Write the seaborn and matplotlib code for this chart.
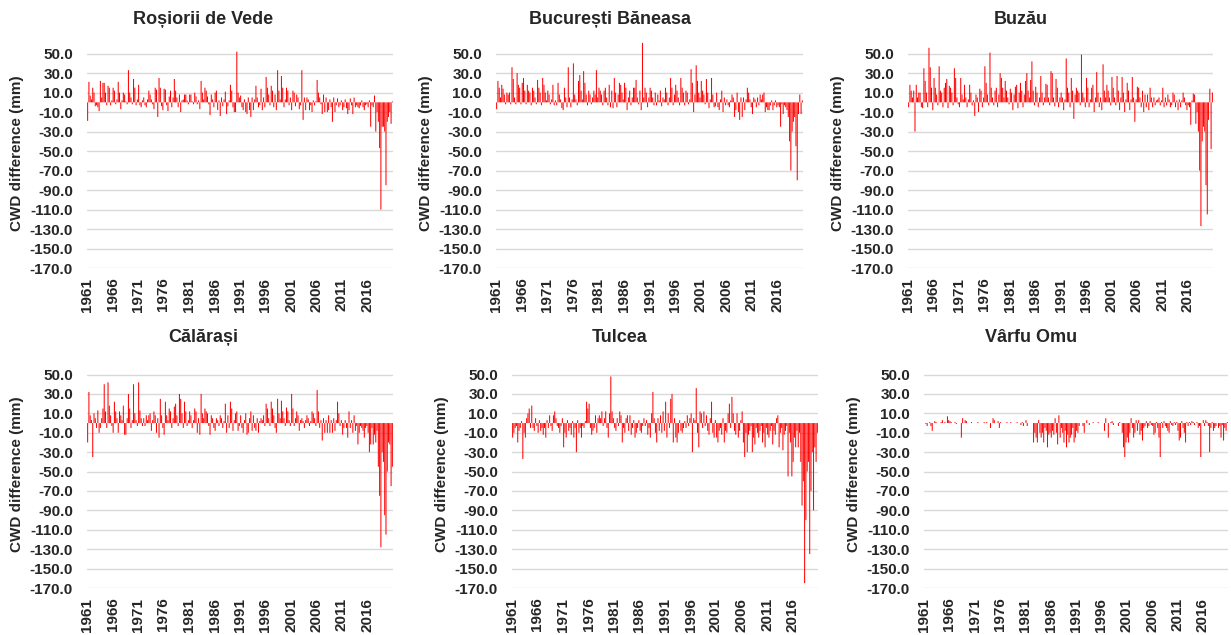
import matplotlib
matplotlib.use('Agg')
import matplotlib.pyplot as plt
import seaborn as sns
import pandas as pd
from matplotlib.ticker import FormatStrFormatter

# Jahre und Achsen
first_year = 1961
last_year = 2020
tick_years = list(range(1961, 2017, 5))
ytick_values = list(range(-170, 51, 20))

stations = ['Roșiorii de Vede', 'București Băneasa', 'Buzău',
            'Călărași', 'Tulcea', 'Vârfu Omu']

# CWD-Differenz (mm), 4 Werte pro Jahr (Quartale), 1961-2020
rosiori = [
    -19, 21, 7, 3,   15, 10, -4, -3,   -5, -9, 22, 5,   20, 20, 10, -3,   17, 15, -3, 2,
    15, 12, -2, 3,   21, 10, -7, 2,   10, 8, 1, -2,   33, 10, 5, -2,   24, 15, -3, 3,
    18, -3, -5, 2,   5, -3, -5, 3,   12, 8, 3, -2,   -7, 15, 13, -15,   25, 15, -4, -8,
    14, 13, -3, -9,   6, 12, -5, 5,   24, 12, 5, -5,   8, -10, 2, 3,   8, 8, 2, -2,
    8, 8, 1, -2,   10, 6, -2, 2,   -7, 22, 10, 3,   15, 12, 6, -2,   -13, 8, 3, -5,
    10, 12, -8, 2,   -14, 5, -4, 3,   11, -12, -4, 2,   18, 12, -5, -10,   -10, 52, 10, 5,
    7, -5, -8, 3,   -10, -12, 5, -8,   -15, 5, -8, 3,   17, 5, -5, -3,   14, -8, 5, -5,
    26, 15, 8, -3,   17, 12, -5, 8,   -8, 33, 12, 3,   27, 15, -5, 3,   15, 12, -3, 5,
    -8, 12, 10, -4,   8, 5, -7, -3,   33, -18, 5, -8,   5, 3, -8, -3,   -10, 2, -3, 1,
    23, 10, 5, -2,   -12, 8, -10, 5,   -10, -8, 3, -5,   -20, 5, -10, -3,   4, -5, -3, 2,
    -8, -5, 3, -6,   -12, -8, 4, -3,   -12, 5, -5, -3,   -5, -6, -3, 2,   -5, -8, -3, -2,
    -5, 2, -25, -3,   -5, 7, -30, -10,   -20, -47, -110, -25,   -25, -30, -85, -20,   -15, -10, -22, 1,
]
bucuresti = [
    -7, 22, 15, 5,   18, 14, 8, -2,   10, 8, 10, -2,   36, 24, 5, -2,   30, 18, 15, -2,
    20, 25, 12, -2,   18, 12, 10, -3,   15, 12, 5, -2,   23, 15, 10, -3,   25, 18, 10, 2,
    12, 8, -2, 3,   18, -3, 2, -3,   20, 8, 3, -6,   -8, 15, 5, -5,   36, 5, -5, 3,
    40, 8, 3, -3,   22, 28, 12, 3,   32, 20, 8, -3,   12, 8, -2, 5,   12, 8, 33, 5,
    15, 12, 8, -3,   12, 15, 5, -3,   18, -5, 12, -6,   25, 10, -5, 8,   20, 18, 10, 3,
    20, 15, -8, 5,   12, -3, 5, 15,   15, 23, 5, -2,   12, -8, 61, 5,   15, 10, -5, 5,
    15, 12, 5, -3,   10, -3, 8, 2,   12, -4, 5, 3,   15, 10, -3, 5,   25, 15, -3, 8,
    18, 12, 5, -3,   25, 15, 10, -3,   12, 10, -2, 3,   34, 20, -10, 8,   38, 22, 10, 5,
    22, 12, 8, -2,   24, 10, -6, 3,   25, 8, -5, -4,   10, -5, -8, 3,   12, -10, 5, -3,
    3, -3, -5, 2,   8, 5, -15, -8,   10, -10, -18, 5,   -15, 5, -8, 3,   15, 10, 3, -5,
    -12, 5, 3, -5,   5, -3, 8, 3,   8, 10, -10, -5,   -8, -8, -3, 2,   -8, -3, 2, -5,
    -3, -5, -25, -2,   -12, -3, -5, -8,   -15, -40, -70, -30,   -20, -15, -45, -80,   -12, 8, -12, 2,
]
buzau = [
    -5, 18, 12, 5,   12, -30, 18, 5,   10, 10, -5, -6,   35, 22, 10, -5,   56, 36, 15, -8,
    25, 15, 8, -3,   37, 12, 10, -5,   15, 20, 24, -6,   17, 15, 10, -3,   35, 25, 5, -2,
    -5, 25, 8, 3,   18, 5, -5, 3,   18, 10, -3, 2,   -14, 8, 5, -10,   14, 12, -5, 5,
    37, 20, 8, -3,   51, 15, 5, -3,   12, 15, -5, 8,   30, 25, 15, 5,   22, 12, 5, -2,
    14, 10, -8, 8,   16, 18, -6, 10,   20, 12, -5, 8,   22, 30, 12, 5,   23, 42, 12, -3,
    16, 10, -5, 5,   27, 10, -3, 5,   19, 18, 5, -3,   32, 30, 5, -4,   24, 15, -5, 5,
    10, 5, -8, 3,   45, 15, 10, -5,   25, 12, -17, 8,   15, 12, 10, -3,   49, 10, 5, -5,
    25, 15, -5, 3,   15, 18, -10, 5,   31, 10, -5, 5,   -8, 39, 12, 5,   18, 12, 5, -3,
    26, 15, 5, -3,   27, 12, -8, 5,   26, 10, -10, 3,   20, 12, -8, 3,   26, 5, -20, 3,
    16, 15, 5, -5,   12, -10, 8, -5,   8, -8, 15, 5,   -5, 5, -3, 2,   3, 5, -3, 2,
    15, -5, 5, -3,   8, 3, -5, -3,   10, 8, -5, 2,   -8, 3, -5, 2,   10, 5, -3, -8,
    -3, -5, -23, 2,   9, 8, -22, -10,   -30, -70, -127, -40,   -25, -30, -85, -115,   -18, 14, -48, 10,
]
calarasi = [
    -20, 32, 8, 3,   -35, 10, 5, -5,   13, -10, -5, 5,   15, 40, 12, -5,   42, 18, 8, -3,
    -10, 22, 12, 5,   -10, 12, 8, 3,   18, -12, -12, 5,   30, 15, -5, 3,   40, 10, 3, -3,
    42, 13, 5, -3,   5, -3, 8, 3,   8, 10, -8, 3,   12, 8, -10, 5,   -15, 25, 8, -5,
    -12, 22, 8, 3,   15, 12, -5, 5,   17, 20, 8, -3,   30, 25, 10, -5,   22, 12, -3, 3,
    12, 8, -5, 3,   15, 12, -10, 5,   -12, 30, 10, 5,   15, 12, 10, -3,   -12, 8, 5, -5,
    -8, 5, 3, -3,   8, 5, -5, 2,   20, -10, 8, -5,   22, 15, -8, 3,   10, 12, -8, -3,
    8, -5, -10, 3,   10, -12, -10, 5,   12, -8, 8, -5,   -8, 5, -10, 2,   5, 3, 8, -3,
    20, 15, 5, -3,   22, 15, 8, -5,   -10, 25, 10, 5,   23, 12, 5, -3,   16, 12, 3, -3,
    30, 15, -3, 5,   12, 8, -8, 3,   5, 2, -5, 3,   8, 5, -3, 2,   12, 10, 5, -3,
    34, 12, -5, 3,   -18, 5, -10, 3,   -10, 8, -10, 3,   -10, 5, -8, 3,   22, 10, -3, 3,
    -12, -5, 3, -5,   -15, 12, -5, 3,   -10, 8, -8, -3,   -22, -10, -3, -5,   -8, -15, -5, -3,
    -10, -30, -22, -5,   -22, -12, -20, -8,   -45, -75, -128, -30,   -40, -95, -115, -50,   -20, -22, -65, -45,
]
tulcea = [
    -15, -10, -5, -3,   -20, -8, -5, 2,   -37, -10, -15, 5,   10, 15, -5, 18,   -5, -8, 5, -3,
    -10, 3, -8, -5,   -12, -5, -15, 3,   -5, 8, -3, -8,   8, 12, 5, -3,   -5, -10, -3, 5,
    -25, -10, -15, 3,   -8, -5, -12, 2,   -15, -5, -30, 3,   -10, -5, -15, -3,   -5, 2, 22, 15,
    20, -5, -12, -8,   -5, 8, -10, 5,   8, 5, 12, -3,   5, 12, -5, -15,   10, 48, 12, 5,
    -5, -8, 5, -3,   12, 8, -20, -5,   -10, 5, 8, -8,   8, -12, -5, 3,   -15, -10, -5, 3,
    -8, -10, -3, 5,   -3, 3, -12, -5,   -15, 10, 32, 5,   -10, -20, 5, -8,   8, -10, 12, -8,
    22, -15, 10, -5,   25, 30, -20, 5,   -15, -20, -10, 3,   -8, -10, -5, 2,   -5, 8, -3, 5,
    10, -30, 5, 3,   36, -10, -25, 12,   10, -5, 12, -3,   8, -8, -12, 5,   22, -10, -15, 3,
    -15, -20, -8, -5,   -12, 5, -20, -8,   -10, 10, 20, -5,   27, 10, -8, -12,   10, -15, -8, 3,
    12, -20, -35, -10,   -30, -12, -8, -3,   -30, -15, -22, -5,   -10, -15, -8, -3,   -20, -10, -25, -5,
    -12, -15, -8, -3,   -22, -8, -12, 5,   8, -25, -10, -5,   -28, -12, -8, -3,   -55, -10, -20, -55,
    -40, -15, -25, -8,   -25, -10, -40, -85,   -60, -165, -100, -50,   -40, -135, -70, -30,   -90, -25, -40, -10,
]
varfu_omu = [
    0, -1, -3, 0,   1, -3, -8, 0,   2, 1, 0, 0,   0, 1, 3, 0,   1, 0, 7, 3,
    2, 1, 0, 0,   1, -1, 0, 0,   0, -15, 5, 0,   3, 2, 0, 0,   0, 1, 0, 0,
    0, 0, 1, 0,   0, 0, 0, 1,   0, 1, 0, 0,   -5, 0, 5, 3,   0, 0, 2, -5,
    1, 0, 0, 0,   0, 1, 0, 0,   1, 0, 0, 0,   0, 1, 0, 0,   -2, 1, -3, 0,
    3, -3, 0, 0,   0, 0, -20, -10,   -15, -20, 3, -10,   -15, -10, -20, -5,   -8, -25, -12, -10,
    -15, -8, -12, 5,   -10, -22, 8, -15,   -5, -10, -20, -8,   -25, -12, -20, -15,   -12, -5, -20, -15,
    -8, -10, -3, 0,   0, -3, -10, 0,   3, 0, -2, 0,   0, 1, 0, 0,   0, 1, 0, 0,
    0, 0, -8, 5,   0, -15, 0, 1,   2, -2, 0, 0,   0, -3, 1, 0,   -10, -25, -35, -20,
    -15, -20, -10, 5,   -5, -15, -10, 3,   -8, 3, -12, -8,   -18, -5, -3, 2,   -5, -3, 2, -2,
    -3, -12, -10, 1,   -5, -15, -35, 1,   -5, 2, -3, -5,   -8, -10, 2, -2,   -3, 1, -2, 1,
    -8, -18, -15, 2,   -5, -10, -20, 1,   -3, 1, -2, 2,   1, -2, 0, 1,   -5, -3, -35, 0,
    3, -3, 3, 1,   -3, -30, -5, 1,   -8, -5, -3, 0,   -5, -3, -15, -2,   -18, -5, -8, 1,
]
series = [rosiori, bucuresti, buzau, calarasi, tulcea, varfu_omu]

# Layout in Pixel: (links, oben, rechts, unten, Titel-x, Titel-y)
W, H = 1231, 635
boxes = [
    (87, 39, 393, 268, 203, 20),
    (496, 39, 803, 268, 610, 20),
    (908, 39, 1213, 268, 1021, 20),
    (87, 360, 393, 588, 203, 338),
    (512, 360, 818, 588, 620, 338),
    (924, 360, 1228, 588, 1031, 338),
]

sns.set_style('white')
plt.rcParams['font.family'] = ['Liberation Sans', 'DejaVu Sans']
plt.rcParams['axes.unicode_minus'] = False

fig = plt.figure(figsize=(W / 100, H / 100), dpi=100)

for name, values, (x0, y0, x1, y1, tx, ty) in zip(stations, series, boxes):
    ax = fig.add_axes([x0 / W, 1 - y1 / H, (x1 - x0) / W, (y1 - y0) / H])
    df = pd.DataFrame({
        'Jahr': [first_year + (i + 0.5) / 4 for i in range(len(values))],
        'CWD': values,
    })
    # duenne Balken ohne Pixel-Snapping, damit keine Balken verschwinden
    sns.barplot(data=df, x='Jahr', y='CWD', native_scale=True, orient='x',
                color='#FF0000', saturation=1, width=0.8, linewidth=0,
                errorbar=None, snap=False, ax=ax)
    ax.set_xlim(first_year, last_year + 1)
    ax.set_ylim(-170, 65)
    ax.set_yticks(ytick_values)
    ax.yaxis.set_major_formatter(FormatStrFormatter('%.1f'))
    ax.set_xticks(tick_years)
    ax.set_xticklabels([str(y) for y in tick_years], rotation=90)
    ax.yaxis.grid(True, color='#D9D9D9', linewidth=1.0)
    ax.xaxis.grid(False)
    ax.set_axisbelow(True)
    for s in ax.spines.values():
        s.set_visible(False)
    ax.tick_params(axis='y', length=0, pad=10, labelsize=11)
    ax.tick_params(axis='x', length=0, pad=7, labelsize=11)
    for lab in ax.get_xticklabels() + ax.get_yticklabels():
        lab.set_fontweight('bold')
    ax.set_xlabel('')
    ax.set_ylabel('CWD difference (mm)', fontsize=11, fontweight='bold')
    ax.yaxis.set_label_coords(-63 / (x1 - x0), 0.5)
    fig.text(tx / W, 1 - ty / H, name, ha='center', va='center',
             fontsize=13, fontweight='bold')

fig.savefig('out.png', dpi=100)
